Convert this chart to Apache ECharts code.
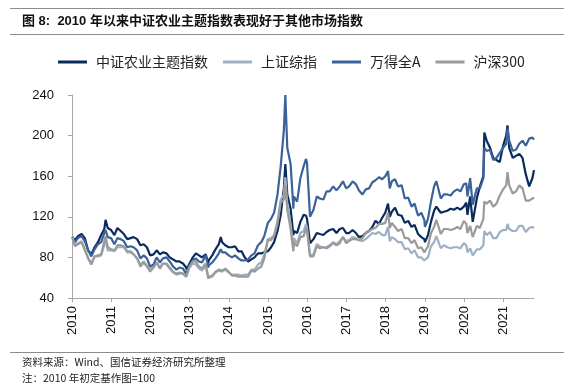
<!DOCTYPE html>
<html>
<head>
<meta charset="utf-8">
<script src="https://cdn.jsdelivr.net/npm/echarts@6/dist/echarts.min.js"></script>
<style>
  html, body { margin: 0; padding: 0; background: #fff; }
  #main { width: 564px; height: 390px; }
</style>
</head>
<body>
<div id="main"></div>
<script>
// 日期（每行一年）
var dates = [
  '2010-01-04','2010-01-29','2010-02-26','2010-03-31','2010-04-30','2010-05-31','2010-06-30','2010-07-30','2010-08-31','2010-09-30','2010-10-29','2010-11-10','2010-11-30','2010-12-31',
  '2011-01-31','2011-02-28','2011-03-31','2011-04-29','2011-05-31','2011-06-30','2011-07-29','2011-08-31','2011-09-30','2011-10-31','2011-11-30','2011-12-30',
  '2012-01-31','2012-02-29','2012-03-30','2012-04-27','2012-05-31','2012-06-29','2012-07-31','2012-08-31','2012-09-28','2012-10-31','2012-11-30','2012-12-04','2012-12-31',
  '2013-01-31','2013-02-28','2013-03-29','2013-04-26','2013-05-31','2013-06-25','2013-06-28','2013-07-31','2013-08-30','2013-09-30','2013-10-18','2013-10-31','2013-11-29','2013-12-31',
  '2014-01-30','2014-02-28','2014-03-31','2014-04-30','2014-05-30','2014-06-30','2014-07-31','2014-08-29','2014-09-30','2014-10-31','2014-11-28','2014-12-31',
  '2015-01-30','2015-02-27','2015-03-31','2015-04-30','2015-05-29','2015-06-12','2015-06-30','2015-07-31','2015-08-26','2015-08-31','2015-09-30','2015-10-30','2015-11-30','2015-12-22','2015-12-31',
  '2016-01-28','2016-02-29','2016-03-31','2016-04-29','2016-05-31','2016-06-30','2016-07-29','2016-08-31','2016-09-30','2016-10-31','2016-11-30','2016-12-30',
  '2017-01-26','2017-02-28','2017-03-31','2017-04-28','2017-05-31','2017-06-30','2017-07-31','2017-08-31','2017-09-29','2017-10-31','2017-11-30','2017-12-29',
  '2018-01-24','2018-02-09','2018-02-28','2018-03-30','2018-04-27','2018-05-31','2018-06-29','2018-07-31','2018-08-31','2018-09-28','2018-10-31','2018-11-30','2018-12-28',
  '2019-01-03','2019-01-31','2019-02-28','2019-03-29','2019-04-19','2019-05-31','2019-06-28','2019-07-31','2019-08-30','2019-09-30','2019-10-31','2019-11-29','2019-12-31',
  '2020-01-23','2020-02-03','2020-02-28','2020-03-23','2020-04-30','2020-05-29','2020-06-30','2020-07-09','2020-07-31','2020-08-31','2020-09-30','2020-10-30','2020-11-30','2020-12-31',
  '2021-01-29','2021-02-10','2021-02-26','2021-03-31','2021-04-30','2021-05-31','2021-06-30','2021-07-30','2021-08-31','2021-09-30','2021-10-15'
];

// 中证农业主题指数
var agri = [
  100,97,101,103,99,87,83,90,95,102,108,117,109,107,
  102,109,106,103,98,99,100,98,92,93,90,82,
  83,87,83,85,84,80,78,76,76,74,70,68,74,
  80,84,82,80,83,74,77,82,88,93,100,95,92,90,
  90,91,86,86,80,76,78,80,84,84,85,86,
  90,95,106,122,148,172,142,128,102,106,104,115,122,121,118,
  94,98,104,103,102,105,107,108,104,108,109,104,
  104,107,104,100,101,104,106,110,116,113,119,124,
  133,120,125,129,122,121,114,116,110,112,103,100,98,
  95,102,115,126,130,124,125,126,128,127,129,127,130,
  134,122,140,115,138,150,160,203,195,188,178,176,174,190,
  200,210,188,178,180,182,178,162,150,158,166
];

// 上证综指
var shComp = [
  100,92,94,96,88,80,74,81,81,82,92,97,87,87,
  86,90,90,90,85,85,83,79,73,76,72,68,
  71,75,70,74,73,69,65,63,64,64,61,60,70,
  74,73,69,67,71,60,61,61,65,67,68,66,68,65,
  63,63,63,62,63,63,68,68,73,75,83,98,
  99,102,116,137,142,159,132,113,90,99,94,104,106,113,109,
  82,83,93,91,90,90,92,95,93,96,100,96,
  97,100,99,97,96,98,101,104,103,105,102,102,
  110,96,100,98,95,95,88,89,84,87,80,80,77,
  76,80,91,95,101,89,92,90,89,90,90,89,94,
  92,85,89,82,88,88,92,106,102,105,99,99,105,107,
  107,113,108,106,106,111,111,105,109,110,109
];

// 万得全A
var windA = [
  100,95,99,101,96,87,81,88,93,95,104,107,100,99,
  93,99,98,96,90,91,90,87,79,82,79,71,
  73,80,75,79,80,76,71,68,70,69,64,63,72,
  77,79,76,75,82,70,72,75,79,84,88,85,85,82,
  80,82,79,77,77,78,82,84,92,95,101,114,
  118,124,142,170,205,240,188,172,128,140,135,158,170,177,173,
  120,127,140,138,137,145,145,150,146,150,155,148,
  150,155,152,146,142,147,148,154,156,159,157,160,
  165,148,155,157,150,151,138,139,130,133,121,124,117,
  110,118,135,150,155,138,142,142,141,145,147,145,152,
  153,140,158,132,148,148,158,188,185,186,176,178,183,188,
  192,207,195,185,186,192,195,190,197,198,196
];

// 沪深300
var hs300 = [
  100,91,93,95,87,79,73,81,82,83,96,101,90,88,
  87,92,92,91,86,86,83,79,71,75,71,66,
  70,75,69,74,74,70,66,64,65,64,61,60,71,
  76,76,71,69,74,59,61,62,66,68,69,67,69,66,
  62,62,61,61,61,61,67,66,69,71,79,97,
  97,101,113,134,137,151,127,108,86,95,91,100,101,109,106,
  81,81,91,89,90,89,91,94,92,94,100,94,
  96,98,98,97,99,104,106,108,109,113,113,114,
  124,109,114,110,106,108,99,99,94,97,89,90,85,
  84,91,104,110,117,103,108,108,107,108,110,108,116,
  113,104,111,100,111,109,118,135,133,136,130,133,141,147,
  151,164,151,143,145,151,148,136,136,138,139
];

var seriesNames = ['中证农业主题指数', '上证综指', '万得全A', '沪深300'];
var seriesColors = ['#0b2b5c', '#9db1c6', '#3b6299', '#9a9a9a'];
var seriesData = [agri, shComp, windA, hs300];

var yTicks = { min: 40, max: 240, step: 40 };

function pairs(arr) {
    return dates.map(function (d, i) { return [d, arr[i]]; });
}

var fontLatin = 'Liberation Sans, Arial, Noto Sans CJK SC, sans-serif';
var fontCJK = 'Noto Sans CJK SC, Liberation Sans, sans-serif';

var myChart = echarts.init(document.getElementById('main'), null, { renderer: 'canvas' });
var YEAR = 365.25 * 24 * 3600 * 1000;

var option = {
    animation: false,
    backgroundColor: '#fff',
    title: {
        text: '图 8:  2010 年以来中证农业主题指数表现好于其他市场指数',
        left: 22,
        top: 15,
        padding: 0,
        textStyle: { fontSize: 13, fontWeight: 'bold', color: '#111', fontFamily: fontLatin }
    },
    legend: {
        data: seriesNames,
        left: 58,
        top: 55,
        padding: 0,
        icon: 'rect',
        itemWidth: 29,
        itemHeight: 3,
        itemGap: 15,
        textStyle: { fontSize: 14, color: '#222', fontFamily: fontCJK, padding: [0, 0, 0, 4] }
    },
    grid: { left: 72, right: 30, top: 95, bottom: 92 },
    xAxis: {
        type: 'time',
        min: '2010-01-01',
        max: '2021-10-15',
        minInterval: YEAR * 0.99,
        maxInterval: YEAR * 1.01,
        axisLine: { lineStyle: { color: '#a6a6a6', width: 1 } },
        axisTick: { show: true, length: 4, lineStyle: { color: '#a6a6a6' } },
        splitLine: { show: false },
        axisLabel: {
            rotate: 90,
            formatter: '{yyyy}',
            fontSize: 13,
            color: '#111',
            margin: 8,
            fontFamily: fontLatin,
            hideOverlap: false
        }
    },
    yAxis: {
        type: 'value',
        min: yTicks.min,
        max: yTicks.max,
        interval: yTicks.step,
        axisLine: { show: true, lineStyle: { color: '#a6a6a6', width: 1 } },
        axisTick: { show: true, length: 4, lineStyle: { color: '#a6a6a6' } },
        splitLine: { show: false },
        axisLabel: { fontSize: 13, color: '#111', margin: 18, fontFamily: fontLatin }
    },
    series: seriesNames.map(function (name, i) {
        return {
            name: name,
            type: 'line',
            data: pairs(seriesData[i]),
            showSymbol: false,
            symbol: 'none',
            color: seriesColors[i],
            lineStyle: { width: 2.2, color: seriesColors[i] },
            emphasis: { disabled: true }
        };
    }),
    graphic: [
        { type: 'line', shape: { x1: 10, y1: 8.5, x2: 564, y2: 8.5 }, style: { stroke: '#8c8c8c', lineWidth: 1 } },
        { type: 'line', shape: { x1: 10, y1: 34.5, x2: 564, y2: 34.5 }, style: { stroke: '#8c8c8c', lineWidth: 1 } },
        { type: 'line', shape: { x1: 10, y1: 352.5, x2: 564, y2: 352.5 }, style: { stroke: '#8c8c8c', lineWidth: 1 } },
        {
            type: 'text', left: 22, top: 357,
            style: { text: '资料来源：Wind、国信证券经济研究所整理', fontSize: 10.5, fill: '#222', fontFamily: fontCJK }
        },
        {
            type: 'text', left: 22, top: 373,
            style: { text: '注：2010 年初定基作图=100', fontSize: 10.5, fill: '#222', fontFamily: fontCJK }
        }
    ]
};
myChart.setOption(option);
window.addEventListener('resize', function () {
    myChart.resize();
});
</script>
</body>
</html>
